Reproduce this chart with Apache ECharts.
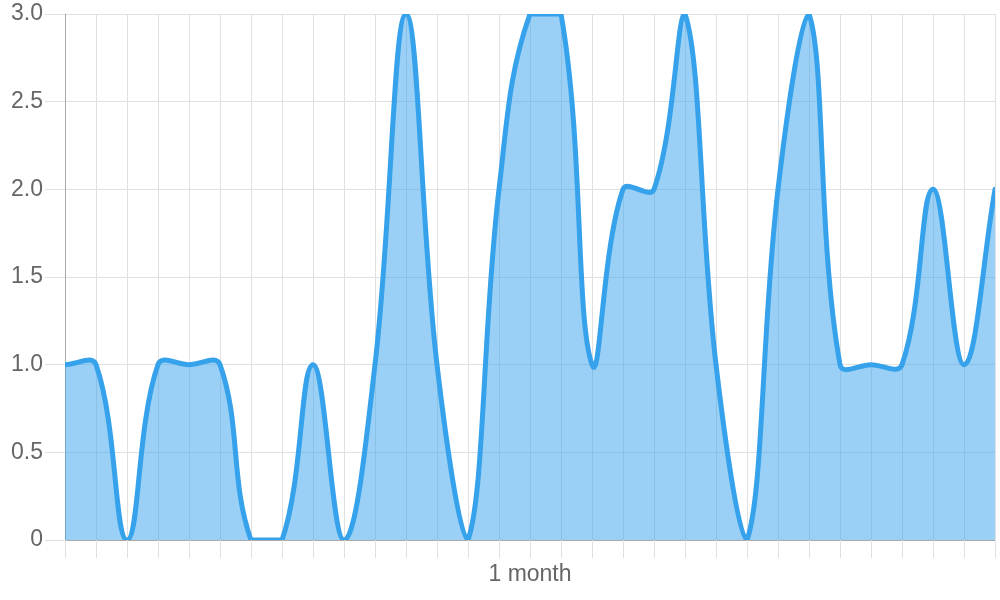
<!DOCTYPE html>
<html>
<head>
<meta charset="utf-8">
<script src="https://cdn.jsdelivr.net/npm/echarts@6/dist/echarts.min.js"></script>
<style>
html,body{margin:0;padding:0;background:#fff;}
#chart{width:1000px;height:600px;}
</style>
</head>
<body>
<div id="chart"></div>
<script>
const categories = ['0','1','2','3','4','5','6','7','8','9','10','11','12','13','14','15','16','17','18','19','20','21','22','23','24','25','26','27','28','29','30'];
const xTickLabels = ['','','','','','','','','','','','','','','','1 month','','','','','','','','','','','','','','',''];
const values = [1,1,0,1,1,1,0,0,1,0,1,3,1,0,2,3,3,1,2,2,3,1,0,2,3,1,1,1,2,1,2];
const yTicks = ['0','0.5','1.0','1.5','2.0','2.5','3.0'];

const TENSION = 0.4;
const chart = echarts.init(document.getElementById('chart'));
const font = '"Liberation Sans", Arial, Helvetica, sans-serif';

function buildPaths(params, api) {
  const cs = params.coordSys;
  const left = cs.x, top = cs.y, right = cs.x + cs.width, bottom = cs.y + cs.height;
  const pts = values.map(function (v, i) { return api.coord([i, v]); });
  const n = pts.length;
  const cps = [];
  for (let i = 0; i < n; i++) {
    const prev = pts[Math.max(i - 1, 0)];
    const cur = pts[i];
    const next = pts[Math.min(i + 1, n - 1)];
    const d01 = Math.hypot(cur[0] - prev[0], cur[1] - prev[1]);
    const d12 = Math.hypot(next[0] - cur[0], next[1] - cur[1]);
    let s01 = d01 / (d01 + d12), s12 = d12 / (d01 + d12);
    if (isNaN(s01)) s01 = 0;
    if (isNaN(s12)) s12 = 0;
    const fa = TENSION * s01, fb = TENSION * s12;
    const clampX = function (x) { return Math.min(Math.max(x, left), right); };
    const clampY = function (y) { return Math.min(Math.max(y, top), bottom); };
    cps.push({
      p: [clampX(cur[0] - fa * (next[0] - prev[0])), clampY(cur[1] - fa * (next[1] - prev[1]))],
      n: [clampX(cur[0] + fb * (next[0] - prev[0])), clampY(cur[1] + fb * (next[1] - prev[1]))]
    });
  }
  let d = 'M' + pts[0][0] + ' ' + pts[0][1];
  for (let i = 1; i < n; i++) {
    d += ' C' + cps[i - 1].n[0] + ' ' + cps[i - 1].n[1] + ' ' + cps[i].p[0] + ' ' + cps[i].p[1] + ' ' + pts[i][0] + ' ' + pts[i][1];
  }
  const base = api.coord([0, 0])[1];
  const fill = d + ' L' + pts[n - 1][0] + ' ' + base + ' L' + pts[0][0] + ' ' + base + ' Z';
  return {line: d, fill: fill};
}

chart.setOption({
  animation: false,
  grid: {left: 65, right: 5, top: 14, bottom: 60, containLabel: false},
  xAxis: {
    type: 'category',
    data: categories,
    boundaryGap: false,
    axisLine: {show: true, lineStyle: {color: '#aaaaaa', width: 1}},
    axisTick: {show: true, interval: 0, length: 18, lineStyle: {color: '#e0e0e0', width: 1}},
    splitLine: {show: true, interval: 0, lineStyle: {color: '#e0e0e0', width: 1}},
    axisLabel: {
      interval: 0,
      margin: 23,
      color: '#666',
      fontSize: 23,
      fontFamily: font,
      formatter: function (v, i) { return xTickLabels[i]; }
    }
  },
  yAxis: {
    type: 'value',
    min: 0,
    max: 3,
    interval: 0.5,
    axisLine: {show: true, lineStyle: {color: '#aaaaaa', width: 1}},
    axisTick: {show: true, length: 20, lineStyle: {color: '#e0e0e0', width: 1}},
    splitLine: {show: true, lineStyle: {color: '#e0e0e0', width: 1}},
    axisLabel: {
      margin: 22,
      color: '#666',
      fontSize: 23,
      fontFamily: font,
      padding: [3, 0, 0, 0],
      formatter: function (v) { return yTicks[Math.round(v * 2)]; }
    }
  },
  series: [{
    type: 'custom',
    clip: true,
    data: values.map(function (v, i) { return [i, v]; }),
    renderItem: function (params, api) {
      if (params.dataIndex !== 0) return null;
      const paths = buildPaths(params, api);
      return {
        type: 'group',
        children: [
          {type: 'path', shape: {pathData: paths.fill}, style: {fill: 'rgba(54,162,235,0.5)', stroke: null}},
          {type: 'path', shape: {pathData: paths.line}, style: {fill: null, stroke: '#36A2EB', lineWidth: 5, lineJoin: 'round', lineCap: 'round'}}
        ]
      };
    }
  }]
});
</script>
</body>
</html>
